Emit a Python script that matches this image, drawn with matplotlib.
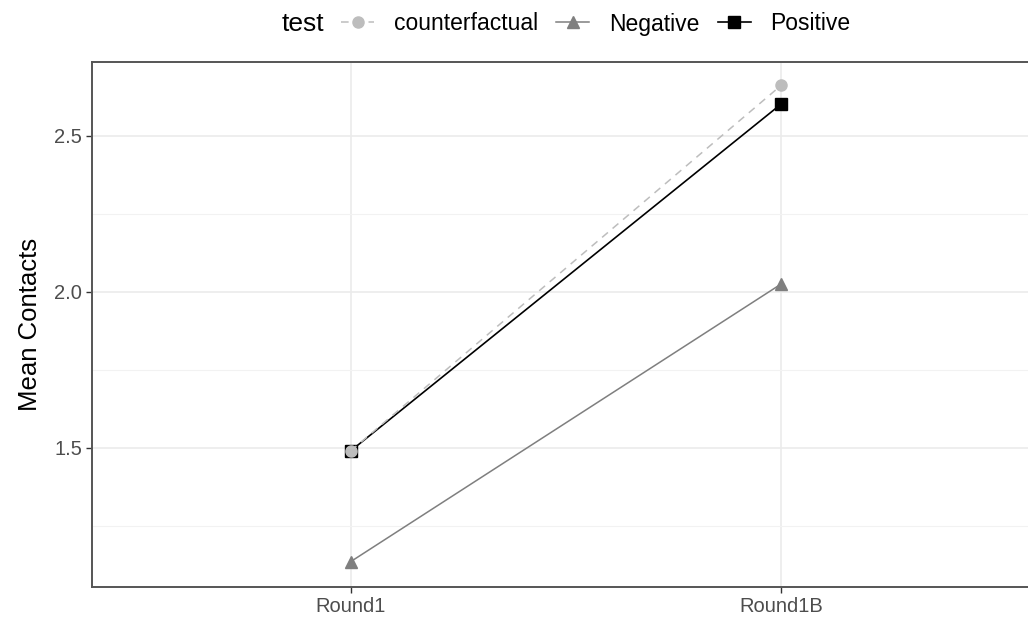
import matplotlib
matplotlib.use("Agg")
import matplotlib.pyplot as plt
from matplotlib.ticker import MultipleLocator

plt.rcParams['font.family'] = ['Liberation Sans', 'DejaVu Sans']

categories = ["Round1", "Round1B"]
series_names = ["counterfactual", "Negative", "Positive"]
counterfactual = [1.49, 2.663]
negative = [1.135, 2.026]
positive = [1.49, 2.603]
legend_title = "test"
y_label = "Mean Contacts"

fig = plt.figure(figsize=(10.28, 6.21), dpi=100)
ax = fig.add_axes([92/1028, 1-587/621, 948/1028, (587-62)/621])

x = list(range(1, len(categories)+1))
styles = [
    (counterfactual, dict(color="#BDBDBD", linestyle=(0, (5, 4)), marker="o", markersize=8, lw=1.1, zorder=4)),
    (negative, dict(color="#7F7F7F", linestyle="-", marker="^", markersize=9, lw=1.1, zorder=3)),
    (positive, dict(color="#000000", linestyle="-", marker="s", markersize=8, lw=1.2, zorder=3)),
]
handles = []
for name, (vals, st) in zip(series_names, styles):
    h, = ax.plot(x, vals, label=name, **st)
    handles.append(h)

ax.set_xlim(0.4, 2.6)
ax.set_ylim(1.054, 2.737)
ax.set_xticks(x)
ax.set_xticklabels(categories)
ax.yaxis.set_major_locator(MultipleLocator(0.5))
ax.yaxis.set_minor_locator(MultipleLocator(0.25))
ax.grid(True, which="major", color="#EBEBEB", lw=1.2, zorder=0)
ax.grid(True, which="minor", axis="y", color="#F2F2F2", lw=0.8, zorder=0)
ax.tick_params(axis="both", which="major", labelsize=14.5, labelcolor="#4D4D4D",
               color="#333333", length=4, width=1, pad=3)
ax.tick_params(axis="y", which="minor", length=0)
for s in ax.spines.values():
    s.set_color("#555555")
    s.set_linewidth(1.4)
ax.set_ylabel(y_label, fontsize=18.5, labelpad=9)

fig.text(282/1028, 1-24/621, legend_title, fontsize=19, va="center", ha="left")
leg = fig.legend(handles=handles, loc="center left", bbox_to_anchor=(341/1028, 1-24/621),
                 ncol=3, frameon=False, fontsize=16.5, handlelength=1.45,
                 columnspacing=0.8, handletextpad=0.85, borderaxespad=0, borderpad=0)

fig.savefig("out.png", dpi=100)
